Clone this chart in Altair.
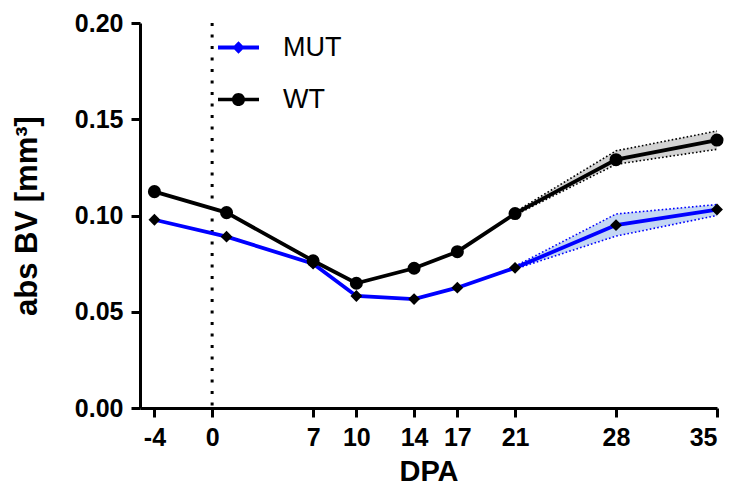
import altair as alt
import pandas as pd

# ---- data ----
dpa = [-4, 1, 7, 10, 14, 17, 21, 28, 35]
mut = [0.0978, 0.0890, 0.0750, 0.0582, 0.0566, 0.0625, 0.0728, 0.0950, 0.1031]
wt = [0.1124, 0.1015, 0.0765, 0.0648, 0.0726, 0.0812, 0.1010, 0.1290, 0.1392]

band_dpa = [21, 28, 35]
mut_lo = [0.0722, 0.0893, 0.1000]
mut_hi = [0.0736, 0.1008, 0.1057]
wt_lo = [0.1002, 0.1266, 0.1344]
wt_hi = [0.1018, 0.1336, 0.1439]

x_ticks = [-4, 0, 7, 10, 14, 17, 21, 28, 35]
y_ticks = [0.0, 0.05, 0.10, 0.15, 0.20]
ref_x = [0]
series = ["MUT", "WT"]
line_colors = ["#0000ff", "#000000"]
band_colors = ["#c4d7f4", "#d2d2d2"]
marker_shapes = ["diamond", "circle"]
marker_sizes = [140, 170]

# ---- tables ----
df = pd.DataFrame(
    {"series": ["MUT"] * len(dpa) + ["WT"] * len(dpa), "dpa": dpa + dpa, "value": mut + wt}
)
bands = pd.DataFrame(
    {
        "series": ["MUT"] * len(band_dpa) + ["WT"] * len(band_dpa),
        "dpa": band_dpa + band_dpa,
        "lo": mut_lo + wt_lo,
        "hi": mut_hi + wt_hi,
    }
)
ref = pd.DataFrame({"x": ref_x})

FONT = "Liberation Sans"
xscale = alt.Scale(domain=[-5, 35], nice=False, zero=False)
yscale = alt.Scale(domain=[0, 0.2], nice=False)

x_enc = alt.X(
    "dpa:Q",
    scale=xscale,
    axis=alt.Axis(values=x_ticks, title="DPA", titlePadding=7, labelPadding=8,
                  labelExpr="datum.value + ''"),
)
y_axis = alt.Axis(values=y_ticks, format=".2f", title="abs BV [mm³]", titlePadding=31, labelPadding=8)

# legend glyphs: a short line with the series marker on it (unit box [-1,1])
MUT_PATH = "M-1,-0.1H1V0.1H-1Z M0,-0.3L0.3,0L0,0.3L-0.3,0Z"
WT_PATH = "M-1,-0.085H1V0.085H-1Z M-0.32,0A0.32,0.32 0 1,1 0.32,0A0.32,0.32 0 1,1 -0.32,0Z"

legend = alt.Legend(
    title=None,
    orient="none",
    legendX=78,
    legendY=4,
    padding=0,
    symbolSize=1681,
    symbolStrokeWidth=0,
    symbolOpacity=1,
    labelOffset=24,
    rowPadding=18,
    labelFont=FONT,
    labelFontSize=27,
    labelColor="#000000",
)

layers = []
for name, lc, bc in zip(series, line_colors, band_colors):
    b = alt.Chart(bands).transform_filter(alt.datum.series == name)
    layers.append(
        b.mark_area(color=bc, opacity=1).encode(
            x=x_enc, y=alt.Y("lo:Q", scale=yscale, axis=y_axis), y2="hi:Q"
        )
    )
    for col in ["lo", "hi"]:
        layers.append(
            b.mark_line(color=lc, strokeWidth=1.6, strokeDash=[1.6, 2.2]).encode(
                x=x_enc, y=alt.Y(f"{col}:Q", scale=yscale)
            )
        )

ref_rule = alt.Chart(ref).mark_rule(color="#000000", strokeWidth=3, strokeDash=[3, 8.5]).encode(
    x=alt.X("x:Q", scale=xscale)
)
layers.append(ref_rule)

for name, lc in zip(series, line_colors):
    d = alt.Chart(df).transform_filter(alt.datum.series == name)
    layers.append(
        d.mark_line(color=lc, strokeWidth=3.8).encode(x=x_enc, y=alt.Y("value:Q", scale=yscale))
    )
for name, shp, sz in zip(series, marker_shapes, marker_sizes):
    d = alt.Chart(df).transform_filter(alt.datum.series == name)
    layers.append(
        d.mark_point(filled=True, opacity=1, shape=shp, size=sz, color="#000000").encode(
            x=x_enc, y=alt.Y("value:Q", scale=yscale)
        )
    )

# legend-only layer: no rows drawn, entries come from the explicit scale domain
legend_layer = alt.Chart(df).transform_filter("false").mark_point(filled=True).encode(
    x=x_enc,
    y=alt.Y("value:Q", scale=yscale),
    color=alt.Color("series:N", scale=alt.Scale(domain=series, range=line_colors), legend=legend),
    shape=alt.Shape("series:N", scale=alt.Scale(domain=series, range=[MUT_PATH, WT_PATH]), legend=legend),
)
layers.append(legend_layer)

chart = (
    alt.layer(*layers)
    .properties(
        width=577,
        height=385,
        autosize=alt.AutoSizeParams(type="none"),
        padding={"left": 132, "top": 15, "right": 8, "bottom": 81},
        background="#ffffff",
    )
    .configure_view(stroke=None)
    .configure_axis(
        grid=False,
        domainColor="#000000",
        domainWidth=3,
        tickColor="#000000",
        tickWidth=3,
        tickSize=9,
        labelFont=FONT,
        labelFontSize=25,
        labelFontWeight="bold",
        labelColor="#000000",
        titleFont=FONT,
        titleFontWeight="bold",
        titleColor="#000000",
    )
    .configure_axisX(titleFontSize=29)
    .configure_axisY(titleFontSize=31)
)

chart.save("out.html", embed_options={"renderer": "svg", "actions": False})
